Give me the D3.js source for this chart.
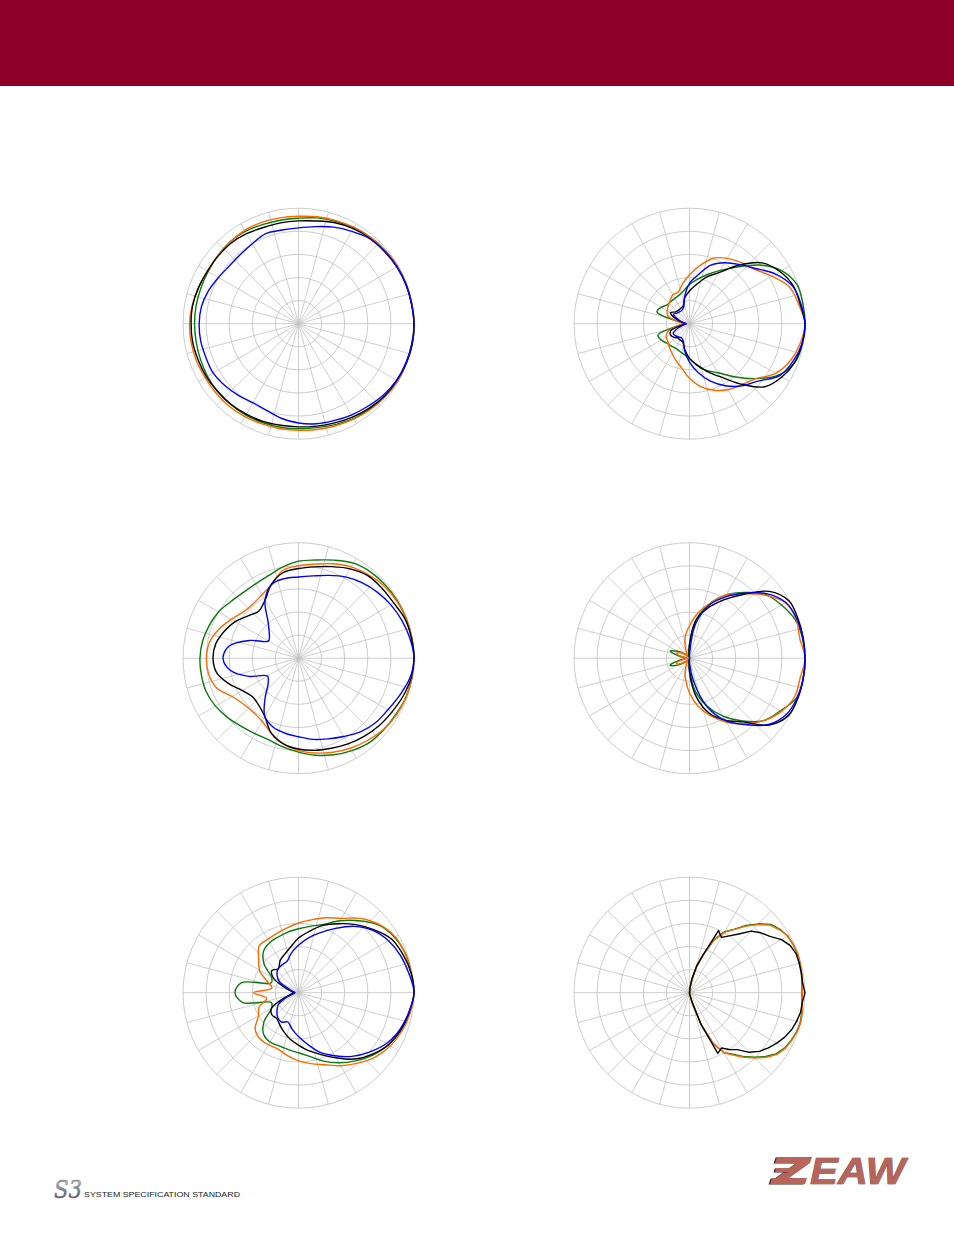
<!DOCTYPE html>
<html><head><meta charset="utf-8">
<script src="https://cdn.jsdelivr.net/npm/d3@7"></script>
<style>html,body{margin:0;padding:0;background:#fff;}svg{display:block;}</style>
</head><body>
<svg id="c" width="954" height="1235"></svg>
<script>
// ---------- data (relative level, dB; 0 dB = outer ring, -30 dB = centre) ----------
const ANGLES_10 = [0,10,20,30,40,50,60,70,80,90,100,110,120,130,140,150,160,170,180,190,200,210,220,230,240,250,260,270,280,290,300,310,320,330,340,350];
const ANGLES_5 = [0,5,10,15,20,25,30,35,40,45,50,55,60,65,70,75,80,85,90,95,100,105,110,115,120,125,130,135,140,145,150,155,160,165,170,175,180,185,190,195,200,205,210,215,220,225,230,235,240,245,250,255,260,265,270,275,280,285,290,295,300,305,310,315,320,325,330,335,340,345,350,355];
const RING_LEVELS = [-24,-18,-12,-6,0];
const SPOKE_ANGLES = [0,15,30,45,60,75,90,105,120,135,150,165,180,195,210,225,240,255,270,285,300,315,330,345];
const SERIES_COLORS = {green:"#0a7a0a", orange:"#ff6a00", black:"#000000", blue:"#0000ff"};

const P1_GREEN  = [0,-0.1,-0.2,-0.3,-0.5,-0.8,-1.2,-1.7,-2.1,-2.6,-2.7,-2.6,-2.3,-2.3,-2.6,-2.9,-3.0,-3.0,-3.0,-3.0,-2.9,-2.7,-2.6,-2.6,-2.6,-2.7,-2.7,-2.7,-2.6,-2.1,-1.5,-1.1,-0.6,-0.3,-0.2,0];
const P1_ORANGE = [0,-0.1,-0.2,-0.3,-0.5,-0.8,-1.1,-1.5,-1.8,-2.1,-2.1,-2.0,-2.0,-2.3,-2.6,-2.7,-2.4,-2.0,-1.7,-1.7,-1.8,-2.0,-2.0,-2.0,-2.1,-2.3,-2.3,-2.3,-2.1,-1.8,-1.4,-0.9,-0.6,-0.3,-0.2,-0.1];
const P1_BLACK  = [0,-0.2,-0.3,-0.5,-0.8,-1.1,-1.5,-2.1,-2.9,-3.3,-3.4,-3.4,-3.0,-2.7,-2.7,-2.7,-2.4,-2.1,-2.1,-2.1,-2.3,-2.4,-2.6,-2.7,-2.9,-3.0,-3.2,-3.2,-3.0,-2.6,-2.0,-1.4,-0.8,-0.5,-0.2,0];
const P1_BLUE   = [0,-0.2,-0.3,-0.5,-0.8,-1.2,-2.3,-3.3,-4.4,-5.1,-5.3,-5.1,-6.0,-6.5,-6.6,-6.0,-5.1,-4.4,-4.2,-4.2,-4.4,-4.4,-5.0,-5.7,-6.3,-6.0,-5.0,-4.2,-3.6,-3.2,-2.6,-2.0,-1.2,-0.6,-0.3,-0.1];

const P2_GREEN  = [0,-0.1,-0.3,-2.4,-6.3,-10.8,-14.0,-16.4,-18.3,-19.8,-21.3,-22.1,-22.4,-22.5,-22.4,-21.5,-21.0,-27.0,-28.8,-27.0,-21.3,-21.5,-22.2,-22.5,-22.7,-22.4,-21.9,-20.9,-19.0,-17.1,-15.3,-12.0,-7.8,-3.3,-0.8,-0.2];
const P2_ORANGE = [0,-1.2,-2.3,-5.3,-8.0,-9.2,-10.4,-11.9,-14.7,-17.3,-19.5,-21.3,-21.3,-22.2,-22.8,-23.3,-24.0,-27.0,-28.8,-27.0,-24.0,-23.0,-22.7,-21.9,-21.0,-19.8,-18.3,-15.8,-13.4,-11.6,-10.2,-9.2,-7.7,-4.2,-2.1,-0.8];
const P2_BLACK  = [0,-0.8,-1.3,-2.9,-5.4,-10.2,-14.7,-17.1,-19.7,-21.5,-23.1,-25.1,-25.4,-25.5,-25.2,-24.3,-26.1,-28.2,-29.1,-28.2,-24.9,-24.3,-24.6,-25.2,-25.1,-24.9,-23.1,-21.0,-19.2,-16.8,-14.1,-9.6,-4.5,-2.3,-0.9,-0.3];
const P2_BLUE   = [0,-0.6,-1.5,-4.2,-7.7,-9.9,-11.7,-13.8,-17.1,-19.5,-22.8,-25.5,-26.0,-26.0,-25.7,-25.2,-27.0,-28.5,-29.1,-28.5,-27.0,-25.1,-25.2,-25.5,-25.8,-25.2,-22.8,-20.0,-17.1,-14.1,-11.4,-8.9,-6.8,-3.0,-1.4,-0.3];

const P3_GREEN  = [0,-0.1,-0.2,-0.3,-0.5,-0.8,-1.5,-2.9,-4.1,-4.8,-6.0,-7.2,-7.7,-7.7,-7.1,-6.0,-5.3,-4.7,-4.4,-4.4,-4.5,-5.1,-6.0,-6.9,-7.4,-7.4,-6.6,-5.6,-4.4,-3.3,-2.3,-1.4,-1.1,-0.8,-0.3,-0.1];
const P3_ORANGE = [0,-0.1,-0.2,-0.5,-0.9,-1.7,-2.6,-3.9,-5.2,-6.0,-6.8,-9.6,-11.0,-11.6,-11.3,-9.8,-8.0,-6.5,-6.1,-6.3,-7.4,-10.1,-11.4,-11.7,-11.1,-9.3,-7.4,-6.0,-5.0,-4.0,-3.0,-2.1,-1.2,-0.6,-0.3,-0.1];
const P3_BLACK  = [0,-0.2,-0.5,-1.4,-1.7,-2.0,-3.2,-4.7,-5.9,-6.7,-7.4,-9.5,-12.6,-14.0,-12.9,-11.0,-9.5,-8.2,-7.8,-8.4,-10.7,-13.2,-14.4,-14.0,-12.5,-9.3,-7.4,-6.4,-5.7,-5.1,-4.3,-3.5,-2.7,-2.0,-1.1,-0.3];
const P3_BLUE   = [0,-0.6,-1.4,-2.3,-3.3,-4.4,-5.6,-7.1,-8.3,-8.9,-9.0,-9.6,-12.6,-17.7,-20.1,-21.0,-16.5,-11.7,-10.4,-12.0,-16.2,-20.7,-19.7,-16.5,-12.5,-10.9,-10.2,-9.6,-8.6,-7.7,-6.5,-5.0,-3.9,-3.2,-2.0,-0.6];

const P4_GREEN  = [0,-0.2,-0.8,-2.4,-4.2,-7.7,-11.0,-15.0,-19.8,-26.4,-29.1,-29.4,-29.4,-29.1,-28.2,-26.4,-24.6,-27.6,-29.4,-27.6,-24.6,-26.4,-28.2,-29.1,-29.4,-29.4,-29.1,-27.0,-21.3,-16.8,-12.6,-8.7,-4.8,-2.7,-0.3,0];
const P4_ORANGE = [0,-0.9,-0.5,-1.2,-4.5,-8.2,-11.0,-15.0,-18.3,-21.6,-24.0,-26.7,-28.8,-29.4,-28.5,-27.0,-26.4,-28.5,-29.4,-28.5,-26.4,-27.0,-28.5,-29.4,-28.8,-26.7,-24.3,-21.0,-17.4,-14.1,-10.8,-7.7,-4.8,-2.4,-0.9,-0.8];
const P4_BLACK  = [0,0,0,-0.2,-3.0,-8.4,-12.6,-16.2,-19.8,-26.4,-30,-30,-30,-30,-30,-30,-30,-30,-30,-30,-30,-30,-30,-30,-30,-30,-30,-26.4,-19.8,-14.7,-11.4,-8.4,-3.0,-0.3,0,0];
const P4_BLUE   = [0,-0.1,-0.3,-1.1,-3.9,-8.0,-11.7,-15.5,-21.0,-29.1,-30,-30,-30,-30,-30,-30,-30,-30,-30,-30,-30,-30,-30,-30,-30,-30,-30,-28.8,-24.0,-16.6,-11.3,-7.5,-3.2,-0.9,-0.2,0];

const P5_GREEN  = [0,-0.3,-0.4,-1.2,-2.7,-5.6,-8.4,-11.1,-12.5,-13.4,-14.0,-14.6,-15.0,-15.9,-18.3,-21.9,-22.5,-15.0,-13.5,-15.3,-22.5,-21.9,-18.3,-15.9,-15.2,-15.3,-15.0,-14.4,-13.2,-11.1,-9.0,-6.9,-4.8,-3.0,-1.7,-0.8];
const P5_ORANGE = [0,-0.3,-0.5,-1.0,-2.5,-4.8,-7.7,-9.3,-10.8,-11.9,-12.9,-13.6,-14.0,-14.1,-16.5,-18.3,-21.3,-23.0,-18.3,-21.6,-19.1,-18.0,-15.3,-14.4,-14.4,-14.4,-13.4,-12.3,-11.3,-10.1,-8.1,-6.1,-4.0,-2.4,-1.3,-0.5];
const P5_BLACK  = [0,-0.3,-1.1,-2.1,-4.5,-6.9,-9.3,-11.4,-13.8,-15.8,-18.0,-19.4,-20.4,-21.9,-21.0,-22.5,-26.4,-28.2,-28.8,-28.2,-26.1,-21.9,-21.0,-21.2,-20.3,-19.1,-17.7,-16.4,-14.7,-12.9,-10.5,-7.5,-5.1,-3.0,-1.7,-0.8];
const P5_BLUE   = [0,-0.9,-1.8,-3.0,-4.8,-7.5,-10.7,-13.4,-15.6,-17.7,-19.5,-21.3,-21.6,-21.8,-22.7,-24.3,-27.6,-28.8,-29.1,-28.8,-27.0,-24.0,-22.7,-21.6,-21.2,-21.9,-20.4,-18.6,-16.4,-13.5,-11.1,-8.4,-6.0,-3.6,-2.0,-0.9];

const P6_GREEN  = [-0.8,-0.7,-0.5,-0.3,-0.2,-0.3,-0.6,-1.3,-2.4,-4.7,-7.2,-9.9,-11.7,-14.7,-19.5,-23.1,-26.7,-29.1,
  -30,-30,-30,-30,-30,-30,-30,-30,-30,-30,-30,-30,-30,-30,-30,-30,-30,-30,-30,-30,-30,-30,-30,-30,-30,-30,-30,-30,-30,-30,-30,-30,-30,-30,-30,-30,-30,
  -29.7,-29.4,-27.3,-21.0,-15.3,-12.0,-10.5,-8.4,-6.3,-4.2,-2.4,-1.4,-0.8,-0.4,-0.2,-0.4,-0.7];
const P6_ORANGE = [-0.7,-0.6,-0.4,-0.3,-0.1,-0.3,-0.5,-1.5,-2.7,-5.0,-7.5,-10.0,-11.9,-15.0,-19.2,-22.8,-26.4,-28.8,
  -30,-30,-30,-30,-30,-30,-30,-30,-30,-30,-30,-30,-30,-30,-30,-30,-30,-30,-30,-30,-30,-30,-30,-30,-30,-30,-30,-30,-30,-30,-30,-30,-30,-30,-30,-30,-30,
  -29.7,-29.4,-27.6,-21.3,-15.6,-12.0,-10.2,-8.1,-6.0,-3.9,-2.1,-1.2,-0.7,-0.3,-0.1,-0.3,-0.6];
const P6_BLACK  = [0,-0.5,-0.5,-0.5,-0.5,-1.1,-2.4,-4.5,-5.8,-7.4,-10.1,-12.0,-13.4,-12.2,-19.4,-22.8,-26.4,-28.8,
  -30,-30,-30,-30,-30,-30,-30,-30,-30,-30,-30,-30,-30,-30,-30,-30,-30,-30,-30,-30,-30,-30,-30,-30,-30,-30,-30,-30,-30,-30,-30,-30,-30,-30,-30,-30,-30,
  -29.7,-29.4,-27.6,-21.3,-12.6,-13.4,-12.0,-10.7,-8.1,-6.3,-5.0,-3.8,-2.7,-1.8,-1.2,-0.7,-0.6];

const LOGO_TEXT = "S3";
const FOOTER_TEXT = "SYSTEM SPECIFICATION STANDARD";
const BRAND_TEXT = "EAW";

// ---------- layout ----------
const W = 954, H = 1235, R = 115.5;
const COL_X = [298.5, 689.5];
const ROW_Y = [323.7, 658.2, 992.7];

const plots = [
  {col:0,row:0,angles:ANGLES_10,smooth:true, series:[["green",P1_GREEN],["orange",P1_ORANGE],["black",P1_BLACK],["blue",P1_BLUE]]},
  {col:1,row:0,angles:ANGLES_10,smooth:true, series:[["green",P2_GREEN],["orange",P2_ORANGE],["black",P2_BLACK],["blue",P2_BLUE]]},
  {col:0,row:1,angles:ANGLES_10,smooth:true, series:[["green",P3_GREEN],["orange",P3_ORANGE],["black",P3_BLACK],["blue",P3_BLUE]]},
  {col:1,row:1,angles:ANGLES_10,smooth:true, series:[["green",P4_GREEN],["orange",P4_ORANGE],["black",P4_BLACK],["blue",P4_BLUE]]},
  {col:0,row:2,angles:ANGLES_10,smooth:true, series:[["green",P5_GREEN],["orange",P5_ORANGE],["black",P5_BLACK],["blue",P5_BLUE]]},
  {col:1,row:2,angles:ANGLES_5,smooth:false, series:[["green",P6_GREEN],["orange",P6_ORANGE],["black",P6_BLACK]]}
];

const svg = d3.select("#c");
svg.append("rect").attr("x",0).attr("y",0).attr("width",W).attr("height",H).attr("fill","#fff");
svg.append("rect").attr("x",0).attr("y",0).attr("width",W).attr("height",86).attr("fill","#8f0029");

const r = d3.scaleLinear().domain([-30,0]).range([0,R]).clamp(true);
const toRad = a => (90 - a) * Math.PI / 180;

plots.forEach(p => {
  const g = svg.append("g").attr("transform",`translate(${COL_X[p.col]},${ROW_Y[p.row]})`);
  g.selectAll("circle.ring").data(RING_LEVELS).join("circle")
    .attr("class","ring").attr("r", d => r(d))
    .attr("fill","none").attr("stroke","#c6c6c6").attr("stroke-width",0.9);
  g.selectAll("line.spoke").data(SPOKE_ANGLES).join("line")
    .attr("class","spoke")
    .attr("x1",0).attr("y1",0)
    .attr("x2", d => r(0)*Math.sin(toRad(d)))
    .attr("y2", d => -r(0)*Math.cos(toRad(d)))
    .attr("stroke","#c2c2c2").attr("stroke-width",0.8);
  const line = d3.lineRadial()
    .angle((d,i) => toRad(p.angles[i]))
    .radius(d => r(d))
    .curve(p.smooth ? d3.curveCatmullRomClosed.alpha(0.5) : d3.curveLinearClosed);
  p.series.forEach(([name, vals]) => {
    g.append("path").attr("d", line(vals))
      .attr("fill","none").attr("stroke",SERIES_COLORS[name])
      .attr("stroke-width",1.4).attr("stroke-linejoin","round");
  });
});

// ---------- footer: S3 logo (single text) ----------
const defs = svg.append("defs");
const grad = defs.append("linearGradient").attr("id","silver").attr("x1","0").attr("y1","0").attr("x2","0").attr("y2","1");
grad.append("stop").attr("offset","0").attr("stop-color","#d8dce4");
grad.append("stop").attr("offset","0.5").attr("stop-color","#7d8594");
grad.append("stop").attr("offset","1").attr("stop-color","#3c4250");
svg.append("text").attr("x",54).attr("y",1198).text(LOGO_TEXT)
  .attr("font-family","DejaVu Serif").attr("font-style","italic").attr("font-size",25)
  .attr("textLength",28).attr("lengthAdjust","spacingAndGlyphs")
  .attr("fill","url(#silver)").attr("stroke","#5a6070").attr("stroke-width",0.35);
svg.append("text").attr("x",84).attr("y",1197).text(FOOTER_TEXT)
  .attr("font-family","Liberation Sans, Arial, sans-serif").attr("font-size",8)
  .attr("textLength",156).attr("lengthAdjust","spacingAndGlyphs").attr("fill","#1a1a1a");

// ---------- footer: EAW logo ----------
const brand = "#b7645b", shadow = "#3a2421";
const logo = svg.append("g");
const sym = [
  [[777,1157],[812,1157],[810,1163],[775,1163]],
  [[797,1163],[810,1163],[789,1178],[776,1178]],
  [[772,1178],[807,1178],[805,1184],[770,1184]],
  [[776,1168],[790,1168],[789,1172],[775,1172]]
];
sym.forEach(pts => {
  logo.append("polygon").attr("points", pts.map(q => [q[0]-1.4,q[1]+0.6].join(",")).join(" ")).attr("fill",shadow);
  logo.append("polygon").attr("points", pts.map(q => q.join(",")).join(" ")).attr("fill",brand);
});
logo.append("text").attr("x",810).attr("y",1184)
  .attr("font-family","Liberation Sans, Arial, sans-serif").attr("font-weight","bold").attr("font-style","italic")
  .attr("font-size",36).attr("textLength",95).attr("lengthAdjust","spacingAndGlyphs")
  .attr("fill",brand).attr("stroke",shadow).attr("stroke-width",0.6).attr("paint-order","stroke")
  .text(BRAND_TEXT);
</script>
</body></html>
